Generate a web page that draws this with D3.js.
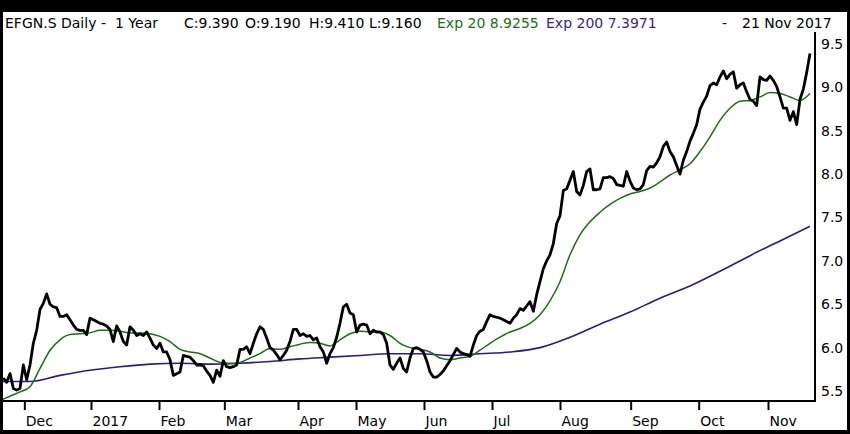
<!DOCTYPE html>
<html lang="en">

<head>
  <meta charset="UTF-8">
  <title>EFGN.S Daily</title>
  <script src="https://d3js.org/d3.v7.min.js"></script>
  <style>
    html,
    body {
      padding: 0;
      margin: 0;
      background: #000;
    }

    svg {
      display: block;
      font-family: "DejaVu Sans", sans-serif;
    }
  </style>
</head>

<body>
  <script>
    const width = 850;
    const height = 434;

    // month starts, as trading-day index
    const monthLabels = ['Dec', '2017', 'Feb', 'Mar', 'Apr', 'May', 'Jun', 'Jul', 'Aug', 'Sep', 'Oct', 'Nov'];
    const monthTicks = [7.3, 27.3, 47.7, 67.3, 89.4, 106.8, 127.2, 147.6, 168, 189.2, 209.6, 230.4];

    const yTicks = [5.5, 6.0, 6.5, 7.0, 7.5, 8.0, 8.5, 9.0, 9.5];

    // daily close, day 1 .. 243
    const close = [
      5.65, 5.6, 5.7, 5.53, 5.51, 5.53, 5.8, 5.63, 5.8, 6.05,
      6.2, 6.44, 6.51, 6.62, 6.5, 6.47, 6.46, 6.36, 6.36, 6.38,
      6.32, 6.26, 6.21, 6.2, 6.2, 6.15, 6.34, 6.32, 6.3, 6.28,
      6.27, 6.25, 6.21, 6.07, 6.25, 6.18, 6.07, 6.03, 6.24, 6.2,
      6.14, 6.16, 6.14, 6.18, 6.11, 6.03, 5.99, 6.05, 5.95, 5.95,
      5.86, 5.68, 5.7, 5.72, 5.91, 5.9, 5.89, 5.85, 5.8, 5.8,
      5.79, 5.73, 5.68, 5.6, 5.74, 5.67, 5.85, 5.78, 5.77, 5.78,
      5.8, 5.98, 5.98, 6.01, 5.93, 6.05, 6.16, 6.24, 6.21, 6.11,
      6.0, 5.97, 5.92, 5.86, 5.91, 5.97, 6.07, 6.21, 6.21, 6.14,
      6.16, 6.13, 6.14, 6.09, 6.11, 6.01, 5.95, 5.82, 5.93, 6.0,
      6.12, 6.28, 6.47, 6.5, 6.4, 6.38, 6.18, 6.26, 6.27, 6.26,
      6.16, 6.2, 6.18, 6.18, 6.15, 6.05, 5.8, 5.75, 5.82, 5.88,
      5.76, 5.72, 5.88, 5.99, 6.0, 5.98, 5.95, 5.85, 5.72, 5.66,
      5.66, 5.69, 5.73, 5.79, 5.85, 5.92, 5.99, 5.95, 5.93, 5.92,
      5.9, 6.03, 6.14, 6.19, 6.21, 6.3, 6.38, 6.36, 6.35, 6.34,
      6.32, 6.3, 6.28, 6.34, 6.38, 6.45, 6.43, 6.48, 6.53, 6.42,
      6.61, 6.76, 6.91, 7.0, 7.07, 7.2, 7.43, 7.52, 7.81, 7.83,
      7.93, 8.03, 7.8, 7.76, 7.87, 8.03, 8.06, 7.82, 7.82, 7.83,
      7.96, 7.96, 7.97, 7.95, 7.88, 7.87, 7.86, 8.03, 7.92, 7.84,
      7.82, 7.83, 7.88, 8.04, 8.09, 8.08, 8.13, 8.2, 8.32, 8.37,
      8.26, 8.2, 8.1, 8.0, 8.16, 8.26, 8.38, 8.47, 8.57, 8.75,
      8.83, 8.9, 9.02, 9.05, 9.03, 9.12, 9.19, 9.1, 9.15, 9.18,
      8.99, 9.03, 9.05, 8.95, 8.86, 8.84, 8.79, 9.12, 9.09, 9.08,
      9.13, 9.08, 9.01, 8.89, 8.76, 8.76, 8.62, 8.72, 8.57, 8.86,
      8.98, 9.17, 9.39
    ];

    // Exp 20, read every 3rd day (day 0, 3, 6 ...)
    const ema20 = [
      5.39, 5.44, 5.49, 5.55, 5.76, 5.97, 6.09, 6.15, 6.16, 6.17,
      6.2, 6.2, 6.19, 6.17, 6.17, 6.16, 6.13, 6.07, 5.98, 5.95,
      5.93, 5.88, 5.83, 5.82, 5.83, 5.88, 5.93, 5.99, 5.98, 6.01,
      6.04, 6.06, 6.05, 6.02, 6.09, 6.16, 6.19, 6.18, 6.18, 6.14,
      6.05, 6.0, 5.98, 5.95, 5.88, 5.86, 5.88, 5.9, 5.97, 6.05,
      6.12, 6.18, 6.22, 6.28, 6.38, 6.54, 6.76, 7.07, 7.3, 7.45,
      7.56, 7.65, 7.72, 7.77, 7.8, 7.84, 7.91, 7.99, 8.05, 8.12,
      8.26, 8.43, 8.62, 8.76, 8.84, 8.85, 8.89, 8.94, 8.93, 8.89,
      8.85, 8.93
    ];

    // Exp 200, read every 9th day
    const ema200 = [
      5.61, 5.61, 5.68, 5.74, 5.78, 5.81, 5.82, 5.81, 5.82, 5.84,
      5.87, 5.89, 5.91, 5.93, 5.93, 5.91, 5.93, 5.95, 6.0, 6.12,
      6.27, 6.41, 6.57, 6.71, 6.88, 7.06, 7.23, 7.4
    ];

    const plot = { left: 3, right: 815, top: 32, bottom: 401 };

    const x = d3.scaleLinear().domain([0, 243]).range([0, 810]);
    const y = d3.scaleLinear().domain([5.5, 9.5]).range([391, 44]);

    const svg = d3.select('body').append('svg')
      .attr('width', width)
      .attr('height', height);

    // black frame
    svg.append('rect').attr('width', width).attr('height', height).attr('fill', '#000');
    svg.append('rect')
      .attr('x', 3).attr('y', 12)
      .attr('width', 844).attr('height', 418)
      .attr('fill', '#fff');

    svg.append('clipPath').attr('id', 'clip')
      .append('rect')
      .attr('x', plot.left).attr('y', plot.top)
      .attr('width', plot.right - plot.left).attr('height', plot.bottom - plot.top);

    const g = svg.append('g').attr('clip-path', 'url(#clip)');

    g.append('path')
      .attr('fill', 'none')
      .attr('stroke', '#2d1a8a')
      .attr('stroke-width', 1.6)
      .attr('d', d3.line().x((d, i) => x(i * 9)).y(d => y(d)).curve(d3.curveMonotoneX)(ema200));

    g.append('path')
      .attr('fill', 'none')
      .attr('stroke', '#1e6e14')
      .attr('stroke-width', 1.5)
      .attr('d', d3.line().x((d, i) => x(i * 3)).y(d => y(d)).curve(d3.curveMonotoneX)(ema20));

    g.append('path')
      .attr('fill', 'none')
      .attr('stroke', '#000')
      .attr('stroke-width', 2.8)
      .attr('stroke-linejoin', 'round')
      .attr('d', d3.line().x((d, i) => x(i + 1)).y(d => y(d))(close));

    // right price axis
    const yAxis = svg.append('g')
      .attr('transform', `translate(${plot.right},0)`)
      .call(d3.axisRight(y).tickValues(yTicks).tickFormat(d3.format('.1f')).tickSize(0).tickPadding(6));
    yAxis.select('.domain').remove();
    yAxis.selectAll('text').attr('font-size', 14).attr('fill', '#000').attr('font-family', '"DejaVu Sans", sans-serif');

    // bottom time axis
    const xAxis = svg.append('g')
      .attr('transform', `translate(0,${plot.bottom})`)
      .call(d3.axisBottom(x).tickValues(monthTicks).tickFormat((d, i) => monthLabels[i]).tickSize(9).tickPadding(6));
    xAxis.select('.domain').remove();
    xAxis.selectAll('line').attr('stroke', '#000').attr('stroke-width', 2);
    xAxis.selectAll('text')
      .attr('text-anchor', 'start')
      .attr('dx', 1)
      .attr('font-size', 14)
      .attr('fill', '#000')
      .attr('font-family', '"DejaVu Sans", sans-serif');

    svg.append('path')
      .attr('fill', 'none')
      .attr('stroke', '#000')
      .attr('stroke-width', 2)
      .attr('d', `M${plot.left},${plot.bottom}H${plot.right}V${plot.top}`);

    // header
    const header = [
      { text: 'EFGN.S Daily -', x: 5, color: '#000' },
      { text: '1 Year', x: 115, color: '#000' },
      { text: 'C:9.390', x: 184, color: '#000' },
      { text: 'O:9.190', x: 245, color: '#000' },
      { text: 'H:9.410', x: 309, color: '#000' },
      { text: 'L:9.160', x: 369, color: '#000' },
      { text: 'Exp 20 8.9255', x: 437, color: '#1e6e14' },
      { text: 'Exp 200 7.3971', x: 546, color: '#3a1f8f' },
      { text: '-', x: 722, color: '#000' },
      { text: '21 Nov 2017', x: 742, color: '#000' }
    ];
    svg.append('g').selectAll('text')
      .data(header)
      .join('text')
      .attr('x', d => d.x)
      .attr('y', 28)
      .attr('font-size', 14)
      .attr('fill', d => d.color)
      .text(d => d.text);
  </script>
</body>

</html>
